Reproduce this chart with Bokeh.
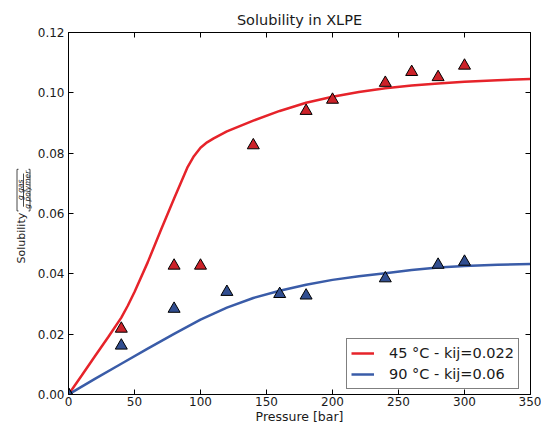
import math
from bokeh.plotting import figure
from bokeh.layouts import row
from bokeh.models import (LinearAxis, FixedTicker, Legend, LegendItem,
                          NumeralTickFormatter, CustomJSTickFormatter, Range1d)
from bokeh.core.properties import value
from bokeh.embed import file_html
from bokeh.resources import INLINE

# ---- data ----
exp45_p = [0, 40, 80, 100, 140, 180, 200, 240, 260, 280, 300]
exp45_s = [0.0, 0.0218, 0.0427, 0.0427, 0.0826, 0.0940, 0.0977, 0.1033, 0.1069, 0.1052, 0.1090]
exp90_p = [0, 40, 80, 120, 160, 180, 240, 280, 300]
exp90_s = [0.0, 0.0162, 0.0284, 0.0340, 0.0333, 0.0328, 0.0385, 0.0430, 0.0440]

model45_p = [0, 10, 20, 30, 40, 45, 50, 60, 70, 80, 90, 95, 100, 105, 110, 120, 140, 160, 180, 200,
             220, 240, 260, 280, 300, 325, 350]
model45_s = [0.0, 0.0063, 0.0127, 0.0190, 0.0255, 0.0295, 0.0340, 0.0438, 0.0545, 0.0650, 0.0752, 0.0790,
             0.0818, 0.0836, 0.0849, 0.0872, 0.0908, 0.0940, 0.0967, 0.0987, 0.1003, 0.1015, 0.1024,
             0.1031, 0.1037, 0.1042, 0.1046]
model90_p = [0, 20, 40, 60, 80, 100, 120, 140, 160, 180, 200, 220, 240, 260, 280, 300, 325, 350]
model90_s = [0.0, 0.0052, 0.0102, 0.0152, 0.0201, 0.0248, 0.0288, 0.0320, 0.0344, 0.0364, 0.0380, 0.0392,
             0.0402, 0.0413, 0.0421, 0.0426, 0.0430, 0.0433]

x_ticks = [0, 50, 100, 150, 200, 250, 300, 350]
y_ticks = [0.0, 0.02, 0.04, 0.06, 0.08, 0.10, 0.12]
legend_labels = ["45 °C - kij=0.022", "90 °C - kij=0.06"]
title_text = "Solubility in XLPE"
x_label = "Pressure [bar]"
y_label = "Solubility"
y_unit_num = "g gas"
y_unit_den = "g polymer"

FONT = "DejaVu Sans"
TXT = "#1a1a1a"
W, H = 541, 426
LAB_W = 34

# ---- y-axis label strip (pixel coordinates, y downwards) ----
lab = figure(width=LAB_W, height=H, output_backend="svg", toolbar_location=None,
             x_range=Range1d(0, LAB_W), y_range=Range1d(H, 0), title=None,
             min_border=0, min_border_left=0, min_border_right=0,
             min_border_top=0, min_border_bottom=0, x_axis_type=None, y_axis_type=None)
lab.grid.visible = False
lab.outline_line_color = None
lab.background_fill_color = "white"
lab.border_fill_color = "white"
lab.text(x=[21], y=[242], text=[y_label], angle=math.pi / 2, text_align="center",
         text_baseline="middle", text_font=value(FONT), text_font_size="11px", text_color=TXT)
lab.text(x=[19.5, 27], y=[185, 185], text=[y_unit_num, y_unit_den], angle=math.pi / 2,
         text_align="center", text_baseline="middle", text_font=value(FONT),
         text_font_size="7.5px", text_font_style="italic", text_color=TXT)
lab.multi_line(xs=[[23, 23], [18, 16.5, 16.5, 18], [28, 29.5, 29.5, 28]],
               ys=[[166, 205], [161, 161, 210, 210], [161, 161, 210, 210]],
               line_color=TXT, line_width=0.8)

# ---- main plot ----
p = figure(width=W - LAB_W, height=H, output_backend="svg", toolbar_location=None,
           x_range=Range1d(0, 350), y_range=Range1d(0, 0.12),
           title=title_text,
           min_border_left=67 - LAB_W, min_border_right=11, min_border_top=32, min_border_bottom=32)
p.background_fill_color = "white"
p.border_fill_color = "white"
p.outline_line_color = "black"
p.outline_line_width = 1
p.xgrid.visible = False
p.ygrid.visible = False

p.title.text_font = FONT
p.title.text_font_size = "14.5px"
p.title.text_font_style = "normal"
p.title.align = "center"
p.title.text_color = TXT


def style_axis(ax):
    ax.axis_line_color = "black"
    ax.major_tick_in = 5
    ax.major_tick_out = 0
    ax.major_tick_line_color = "black"
    ax.minor_tick_line_color = None
    ax.major_label_text_font = FONT
    ax.major_label_text_font_size = "12px"
    ax.major_label_text_color = TXT
    ax.major_label_standoff = 4


p.xaxis.ticker = FixedTicker(ticks=x_ticks)
p.yaxis.ticker = FixedTicker(ticks=y_ticks)
p.yaxis.formatter = NumeralTickFormatter(format="0.00")
style_axis(p.xaxis[0])
style_axis(p.yaxis[0])
p.xaxis.major_label_standoff = 2
p.xaxis.major_label_text_line_height = 1.0
p.xaxis.axis_label = x_label
p.xaxis.axis_label_text_font = FONT
p.xaxis.axis_label_text_font_size = "12.5px"
p.xaxis.axis_label_text_font_style = "normal"
p.xaxis.axis_label_text_color = TXT
p.xaxis.axis_label_text_line_height = 1.0
p.xaxis.axis_label_standoff = 0

blank = CustomJSTickFormatter(code="return ''")
top = LinearAxis(ticker=FixedTicker(ticks=x_ticks), formatter=blank)
right = LinearAxis(ticker=FixedTicker(ticks=y_ticks), formatter=blank)
for ax in (top, right):
    style_axis(ax)
    ax.major_label_standoff = 0
p.add_layout(top, "above")
p.add_layout(right, "right")

RED_L, BLUE_L = "#e6232a", "#3a5ca8"
RED_M, BLUE_M = "#cc2229", "#314e90"

r1 = p.line(model45_p, model45_s, line_color=RED_L, line_width=2.5)
r2 = p.line(model90_p, model90_s, line_color=BLUE_L, line_width=2.5)
p.scatter(exp45_p, exp45_s, marker="triangle", size=12, fill_color=RED_M, line_color="black", line_width=1)
p.scatter(exp90_p, exp90_s, marker="triangle", size=12, fill_color=BLUE_M, line_color="black", line_width=1)

legend = Legend(items=[LegendItem(label=legend_labels[0], renderers=[r1]),
                       LegendItem(label=legend_labels[1], renderers=[r2])],
                location=(278, 5))
legend.label_text_font = FONT
legend.label_text_font_size = "14.5px"
legend.label_text_color = TXT
legend.border_line_color = "black"
legend.border_line_width = 1
legend.background_fill_color = "white"
legend.background_fill_alpha = 1
legend.glyph_width = 23
legend.glyph_height = 20
legend.label_height = 20
legend.label_standoff = 15
legend.spacing = 1
legend.padding = 4
legend.margin = 0
p.add_layout(legend, "center")

layout = row(lab, p)
open("out.html", "w").write(file_html(layout, INLINE))
